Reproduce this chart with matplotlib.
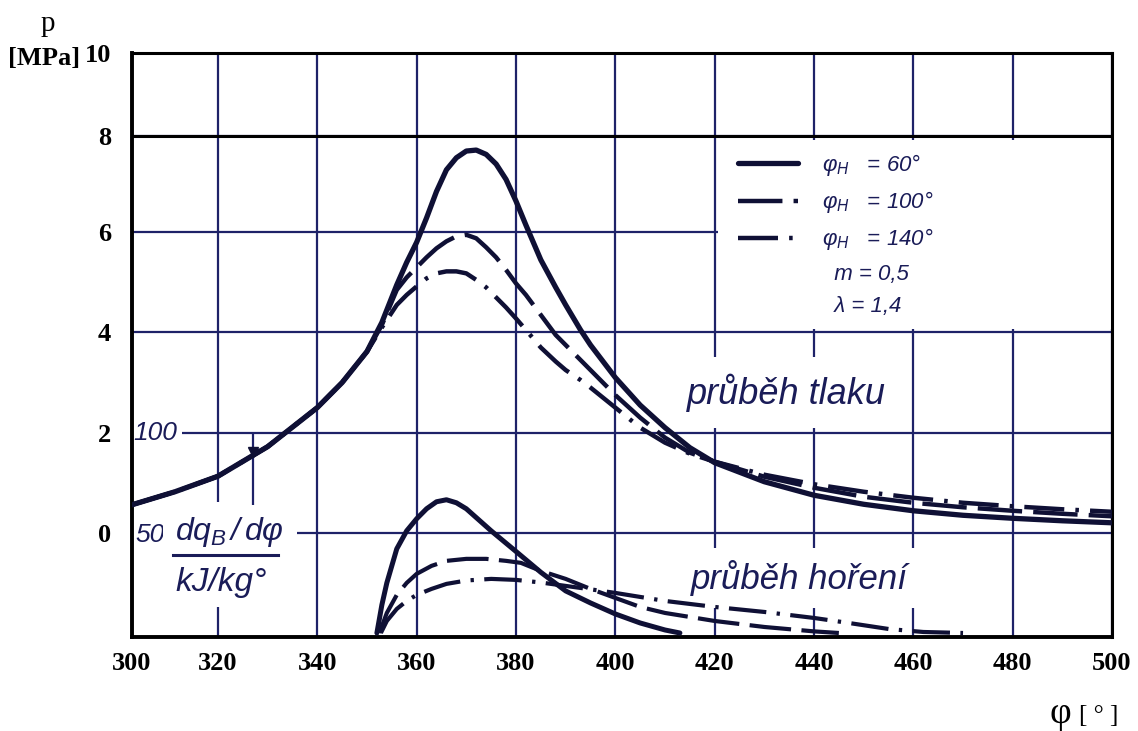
import numpy as np
import matplotlib.pyplot as plt
from matplotlib.lines import Line2D
from matplotlib.patches import Rectangle

# pressure p [MPa] over crank angle phi [deg]
phi_p = [300, 310, 320, 330, 340, 345, 350, 353, 356, 358, 360, 362, 364, 366, 368,
         370, 372, 374, 376, 378, 380, 382, 385, 388, 390, 393, 395, 400, 405, 410, 415, 420,
         430, 440, 450, 460, 470, 480, 490, 500]
p_60 = [0.56, 0.82, 1.13, 1.72, 2.5, 3.0, 3.62, 4.2, 4.95, 5.4, 5.8, 6.3, 6.85, 7.3, 7.55,
        7.69, 7.71, 7.62, 7.42, 7.1, 6.65, 6.15, 5.45, 4.9, 4.55, 4.05, 3.75, 3.1, 2.55, 2.1, 1.7, 1.4,
        1.02, 0.75, 0.57, 0.44, 0.35, 0.29, 0.24, 0.2]
p_100 = [0.56, 0.82, 1.13, 1.72, 2.5, 3.0, 3.62, 4.15, 4.85, 5.1, 5.3, 5.5, 5.68, 5.82, 5.92,
         5.95, 5.88, 5.7, 5.5, 5.25, 4.98, 4.75, 4.35, 3.95, 3.75, 3.45, 3.25, 2.75, 2.3, 1.9, 1.6, 1.42,
         1.12, 0.9, 0.72, 0.6, 0.51, 0.44, 0.38, 0.33]
p_140 = [0.56, 0.82, 1.13, 1.72, 2.5, 3.0, 3.62, 4.1, 4.55, 4.75, 4.92, 5.08, 5.18, 5.22, 5.22,
         5.18, 5.05, 4.9, 4.7, 4.5, 4.28, 4.05, 3.7, 3.42, 3.25, 3.05, 2.9, 2.5, 2.1, 1.8, 1.58, 1.42,
         1.16, 0.97, 0.82, 0.7, 0.6, 0.53, 0.47, 0.42]

# burn rate dq_B/dphi [kJ/kg deg]
phi_q60 = [352, 353, 354, 356, 358, 360, 362, 364, 366, 368, 370, 375, 380, 385, 390,
           395, 400, 405, 410, 413]
q_60 = [0, 14, 25, 42, 51, 57, 62, 65.5, 66.5, 65, 62, 51, 40.7, 30.3, 21,
        15, 9.5, 5, 1.5, 0]
phi_q100 = [352.5, 354, 356, 358, 360, 363, 366, 370, 374, 378, 381, 385, 390, 395, 400,
            405, 410, 420, 430, 440, 445]
q_100 = [0, 10, 19, 25, 29.5, 33.5, 36, 37, 37, 36, 35, 31, 27, 22, 17.5,
         13, 10, 6, 3, 0.8, 0]
phi_q140 = [352.8, 354, 356, 358, 360, 363, 366, 370, 375, 380, 385, 390, 395, 400, 405,
            410, 420, 430, 440, 447, 455, 462, 470]
q_140 = [0, 6, 12, 16, 19, 22, 24.5, 26.2, 27, 26.5, 25.2, 23.5, 21.8, 20, 18,
         16, 13, 10.5, 7.5, 5, 2, 0.5, 0]

x_ticks = [300, 320, 340, 360, 380, 400, 420, 440, 460, 480, 500]
y_ticks = [0, 2, 4, 6, 8, 10]
legend_labels = [r"$\varphi_H$   = 60°", r"$\varphi_H$   = 100°", r"$\varphi_H$   = 140°"]
param_labels = ["  m = 0,5", "  λ = 1,4"]
ignition = 327

INK = "#0f1035"
GRID = "#1e2268"
HAND = "#1a1c58"

plt.rcParams['font.family'] = ['Liberation Serif', 'DejaVu Serif']
plt.rcParams['mathtext.fontset'] = 'custom'
plt.rcParams['mathtext.rm'] = 'Liberation Sans:italic'
plt.rcParams['mathtext.it'] = 'Liberation Sans:italic'
hand = dict(family='Liberation Sans', style='italic', color=HAND)


def q_to_p(q):
    # handwritten scale on the left: 50 -> 0 MPa, 100 -> 2 MPa
    return (np.asarray(q, float) - 50) / 25.0


# the drawn grid is not quite uniform: 300-320 and 8-10 are squeezed
def fx(x):
    x = np.asarray(x, float)
    return np.where(x < 320, 320 - (320 - x) * 0.865, x)


def fx_inv(v):
    v = np.asarray(v, float)
    return np.where(v < 320, 320 - (320 - v) / 0.865, v)


def fy(y):
    y = np.asarray(y, float)
    return np.where(y <= 6, y, np.where(y <= 8, 6 + (y - 6) * 0.96, 7.92 + (y - 8) * 0.83))


def fy_inv(v):
    v = np.asarray(v, float)
    return np.where(v <= 6, v, np.where(v <= 7.92, 6 + (v - 6) / 0.96, 8 + (v - 7.92) / 0.83))


fig = plt.figure(figsize=(11.38, 7.31), dpi=100)
ax = fig.add_axes([0.116, 0.1286, 0.8612, 0.7989])
ax.set_xscale('function', functions=(fx, fx_inv))
ax.set_yscale('function', functions=(fy, fy_inv))
ax.set_xlim(300, 500)
ax.set_ylim(-2.08, 10)

ax.set_axisbelow(True)
ax.grid(True, color=GRID, lw=1.6)
ax.axhline(8, color="black", lw=2.2, zorder=1)
# blank area behind the hand-drawn legend
ax.add_patch(Rectangle((420.7, 4.07), 79.2, 3.86, facecolor="white", edgecolor="none", zorder=0.8))

l60, = ax.plot(phi_p, p_60, color=INK, lw=3.8, solid_capstyle='round', zorder=3)
l100, = ax.plot(phi_p, p_100, color=INK, lw=3.2, dashes=[10, 2.5], zorder=3)
l140, = ax.plot(phi_p, p_140, color=INK, lw=3.2, dashes=[9, 2.5, 0.8, 2.5], zorder=3)

ax.plot(phi_q60, q_to_p(q_60), color=INK, lw=3.6, solid_capstyle='round', zorder=3)
ax.plot(phi_q100, q_to_p(q_100), color=INK, lw=3.0, dashes=[10, 2.5], zorder=3)
ax.plot(phi_q140, q_to_p(q_140), color=INK, lw=3.0, dashes=[9, 2.5, 0.8, 2.5], zorder=3)

ax.vlines(ignition, 0.56, 2.0, color=GRID, lw=1.6, zorder=2)
ax.plot(ignition, 1.62, marker='v', ms=7, color=INK, zorder=3)

ax.set_xticks(x_ticks, [str(t) for t in x_ticks])
ax.set_yticks(y_ticks, [str(t) for t in y_ticks])
ax.tick_params(length=0, labelsize=19)
ax.tick_params(axis='x', pad=11)
ax.tick_params(axis='y', pad=15)
for lab in ax.get_xticklabels() + ax.get_yticklabels():
    lab.set_fontweight('bold')
for side, w in [('left', 2.8), ('bottom', 2.8), ('right', 2.2), ('top', 2.2)]:
    ax.spines[side].set_linewidth(w)
    ax.spines[side].set_color('black')

white = dict(facecolor='white', edgecolor='none', boxstyle='square,pad=0.2')
ax.text(305.4, 2.0, "100", ha='center', va='center', fontsize=19, bbox=white, zorder=1.5, **hand)
ax.text(304.2, -0.05, "50", ha='center', va='center', fontsize=19,
        bbox=dict(facecolor='white', edgecolor='none', boxstyle='square,pad=0.45'), zorder=1.5, **hand)
ax.text(322.4, 0.02, r"$dq_B\,/\,d\varphi$", ha='center', va='center', fontsize=23, color=HAND,
        bbox=dict(facecolor='white', edgecolor='none', boxstyle='square,pad=0.4'), zorder=1.5)
ax.text(320.6, -1.0, "kJ/kg°", ha='center', va='center', fontsize=24,
        bbox=dict(facecolor='white', edgecolor='none', boxstyle='square,pad=0.25'), zorder=1.5, **hand)
ax.plot([309.5, 332], [-0.44, -0.44], color=HAND, lw=2.2, zorder=2)

ax.text(434.5, 2.8, "průběh tlaku", ha='center', va='center', fontsize=26,
        bbox=dict(facecolor='white', edgecolor='none', boxstyle='square,pad=0.45'), zorder=1.5, **hand)
ax.text(437.1, -0.9, "průběh hoření", ha='center', va='center', fontsize=25,
        bbox=dict(facecolor='white', edgecolor='none', boxstyle='square,pad=0.35'), zorder=1.5, **hand)

blank = Line2D([], [], color='none')
leg = ax.legend([l60, l100, l140, blank, blank], legend_labels + param_labels,
                loc='upper left', bbox_to_anchor=(0.618, 0.83), frameon=False,
                prop=dict(family='Liberation Sans', style='italic', size=16),
                labelcolor=HAND, handlelength=2.7, handletextpad=1.1,
                labelspacing=0.5, borderaxespad=0, borderpad=0)

fig.text(48 / 1138, 1 - 24 / 731, "p", ha='center', va='center', fontsize=21)
fig.text(44 / 1138, 1 - 58 / 731, "[MPa]", ha='center', va='center', fontsize=19, fontweight='bold')
fig.text(1060 / 1138, 1 - 714 / 731, "φ", ha='center', va='center', fontsize=27)
fig.text(1099 / 1138, 1 - 716 / 731, "[ ° ]", ha='center', va='center', fontsize=18)

fig.savefig("out.png", dpi=100)
